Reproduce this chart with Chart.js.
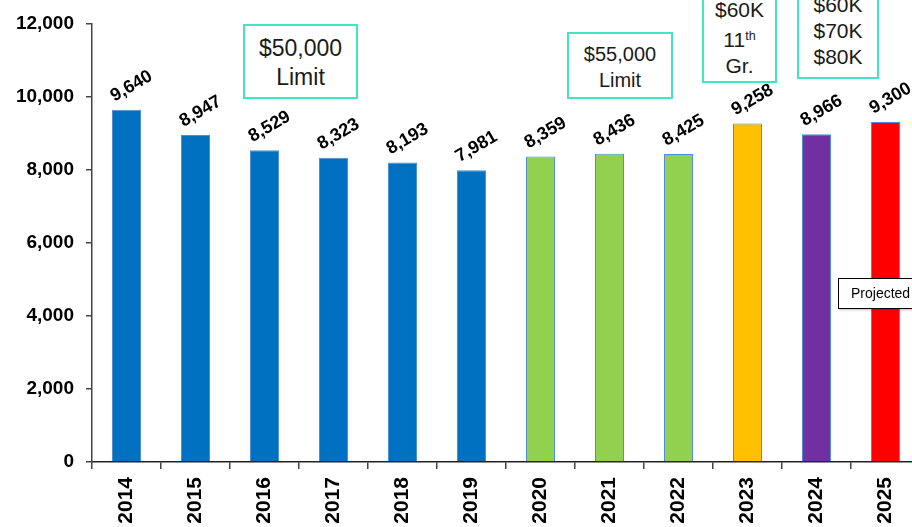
<!doctype html>
<html lang="en">
<head>
<meta charset="utf-8" />
<style>
  html, body {
    margin: 0;
    padding: 0;
    width: 912px;
    height: 527px;
    overflow: hidden;
    background: #ffffff;
    font-family: "Liberation Sans", Arial, sans-serif;
  }
  .wrap {
    position: relative;
    width: 920px;
    height: 527px;
  }
  .note {
    position: absolute;
    box-sizing: border-box;
    border: 2px solid #3fe6bf;
    background: #ffffff;
    color: #1a1a1a;
    text-align: center;
    font-family: "Liberation Sans", Arial, sans-serif;
  }
  .note sup { font-size: 0.6em; vertical-align: 0.55em; }
  .proj {
    position: absolute;
    box-sizing: border-box;
    border: 1px solid #000000;
    background: #ffffff;
    font-size: 14px;
    line-height: 28px;
    padding-left: 12px;
    box-shadow: 1px 1px 2px rgba(0,0,0,0.25);
  }
</style>
<script src="https://cdn.jsdelivr.net/npm/chart.js@4/dist/chart.umd.min.js"></script>
</head>
<body>
<div class="wrap">
  <canvas id="chart" width="920" height="527"></canvas>
  <div class="note" style="left:243px;top:24px;width:115px;height:75px;font-size:23px;line-height:29px;padding-top:8px;">$50,000<br>Limit</div>
  <div class="note" style="left:567px;top:32px;width:106px;height:67px;font-size:20px;line-height:26px;padding-top:7px;">$55,000<br>Limit</div>
  <div class="note" style="left:702px;top:-12px;width:75px;height:95px;font-size:21px;line-height:26px;padding-top:7px;">$60K<br>11<sup>th</sup><br>Gr.</div>
  <div class="note" style="left:797px;top:-18px;width:82px;height:97px;font-size:21px;line-height:26px;padding-top:8px;">$60K<br>$70K<br>$80K</div>
  <div class="proj" style="left:838px;top:278px;width:90px;height:31px;">Projected</div>
</div>
<script>
const years = ['2014', '2015', '2016', '2017', '2018', '2019', '2020', '2021', '2022', '2023', '2024', '2025'];
const counts = [9640, 8947, 8529, 8323, 8193, 7981, 8359, 8436, 8425, 9258, 8966, 9300];
const barColors = ['#0070c0', '#0070c0', '#0070c0', '#0070c0', '#0070c0', '#0070c0',
  '#92d050', '#92d050', '#92d050', '#ffc000', '#7030a0', '#ff0000'];
const yTicks = [0, 2000, 4000, 6000, 8000, 10000, 12000];

const fmt = v => v.toLocaleString('en-US');

// rotated value labels above each bar
const valueLabels = {
  id: 'valueLabels',
  afterDatasetsDraw(chart) {
    const ctx = chart.ctx;
    const meta = chart.getDatasetMeta(0);
    ctx.save();
    ctx.font = 'bold 18px "Liberation Sans", Arial, sans-serif';
    ctx.fillStyle = '#000000';
    ctx.textAlign = 'left';
    ctx.textBaseline = 'alphabetic';
    meta.data.forEach((bar, i) => {
      ctx.save();
      ctx.translate(bar.x - 12, bar.y - 8);
      ctx.rotate(-30 * Math.PI / 180);
      ctx.fillText(fmt(counts[i]), 0, 0);
      ctx.restore();
    });
    ctx.restore();
  }
};

new Chart(document.getElementById('chart'), {
  type: 'bar',
  data: {
    labels: years,
    datasets: [{
      data: counts,
      backgroundColor: barColors,
      borderColor: '#4a8fd6',
      borderWidth: 1,
      categoryPercentage: 1,
      barPercentage: 0.42,
    }],
  },
  options: {
    responsive: false,
    animation: false,
    layout: { padding: { top: 14, right: 0, left: 0, bottom: 0 } },
    plugins: {
      legend: { display: false },
      tooltip: { enabled: false },
    },
    scales: {
      x: {
        offset: true,
        grid: {
          offset: true,
          drawOnChartArea: false,
          drawTicks: true,
          tickLength: 7,
          color: '#444444',
          lineWidth: 1.5,
        },
        border: { color: '#222222', width: 1.5 },
        ticks: {
          minRotation: 90,
          maxRotation: 90,
          padding: 8,
          color: '#000000',
          font: { family: '"Liberation Sans", Arial, sans-serif', size: 21, weight: 'bold' },
        },
        afterFit(scale) { scale.height = 65; },
      },
      y: {
        min: 0,
        max: 12000,
        afterBuildTicks(scale) { scale.ticks = yTicks.map(v => ({ value: v })); },
        grid: {
          drawOnChartArea: false,
          drawTicks: true,
          tickLength: 6,
          color: '#444444',
          lineWidth: 1.5,
        },
        border: { color: '#444444', width: 1.5 },
        ticks: {
          padding: 12,
          color: '#000000',
          callback: v => fmt(v),
          font: { family: '"Liberation Sans", Arial, sans-serif', size: 19, weight: 'bold' },
        },
        afterFit(scale) { scale.width = 92; },
      },
    },
  },
  plugins: [valueLabels],
});
</script>
</body>
</html>
